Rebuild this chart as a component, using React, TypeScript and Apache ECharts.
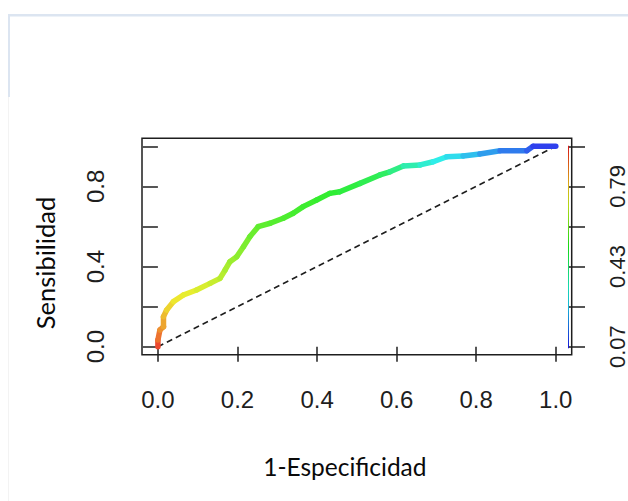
import React, { useEffect, useRef } from "react";
import * as echarts from "echarts";

// ROC curve points (1-Especificidad, Sensibilidad) and cutoff at each point
const fpr = [0, 0, 0.005, 0.014, 0.014, 0.022, 0.039, 0.064, 0.097, 0.131, 0.156, 0.169, 0.181, 0.198, 0.215, 0.231, 0.252, 0.282, 0.315, 0.34, 0.365, 0.399, 0.432, 0.457, 0.508, 0.558, 0.583, 0.617, 0.659, 0.692, 0.726, 0.767, 0.809, 0.86, 0.927, 0.943, 1.0];
const tpr = [0, 0.033, 0.083, 0.1, 0.15, 0.183, 0.225, 0.258, 0.283, 0.316, 0.341, 0.383, 0.424, 0.449, 0.499, 0.549, 0.599, 0.616, 0.641, 0.666, 0.699, 0.732, 0.765, 0.773, 0.815, 0.857, 0.873, 0.902, 0.907, 0.923, 0.948, 0.952, 0.962, 0.978, 0.978, 1.0, 1.0];
const cutoffs = [0.97, 0.91, 0.87, 0.84, 0.82, 0.79, 0.76, 0.745, 0.73, 0.71, 0.69, 0.67, 0.655, 0.64, 0.62, 0.6, 0.58, 0.57, 0.56, 0.55, 0.54, 0.53, 0.52, 0.51, 0.49, 0.47, 0.45, 0.39, 0.35, 0.31, 0.29, 0.26, 0.22, 0.18, 0.14, 0.11, 0.07];

const diagonal = [[0, 0], [1, 1]];
const xTicks = [0, 0.2, 0.4, 0.6, 0.8, 1.0];
const yTicks = [0, 0.2, 0.4, 0.6, 0.8, 1.0];
const yLabelValues = [0, 0.4, 0.8];
const colorbarLabels = ["0.07", "0.25", "0.43", "0.61", "0.79", "0.97"];
const cutMin = 0.07;
const cutMax = 0.97;

function rainbow(c: number, s = 0.85, v = 0.92): string {
  let t = (c - cutMin) / (cutMax - cutMin);
  t = Math.max(0, Math.min(1, t));
  const h = 240 * (1 - t);
  const f = (n: number) => {
    const k = (n + h / 60) % 6;
    return v - v * s * Math.max(0, Math.min(k, 4 - k, 1));
  };
  const to = (x: number) => Math.round(x * 255).toString(16).padStart(2, "0");
  return "#" + to(f(5)) + to(f(3)) + to(f(1));
}

const labelFont = "'Liberation Sans', Arial, sans-serif";
const titleFont = "Lato, 'Noto Sans', sans-serif";
const ink = "#1e1e1e";

export default function App() {
  const ref = useRef<HTMLDivElement>(null);
  useEffect(() => {
    if (!ref.current) return;
    const chart = echarts.init(ref.current, null, { renderer: "svg" });
    const curveData = fpr.map((x, i) => [x, tpr[i], cutoffs[i]]);
    const barStops = [];
    for (let k = 0; k <= 10; k++) {
      const off = k / 10;
      barStops.push({ offset: off, color: rainbow(cutMax - off * (cutMax - cutMin), 0.9, 0.85) });
    }
    chart.setOption({
      animation: false,
      backgroundColor: "#ffffff",
      grid: [
        { left: 142, top: 138.3, width: 429.7, height: 216.4, show: true, borderColor: ink, borderWidth: 1.5, backgroundColor: "transparent" },
        { left: 568, top: 146.3, width: 4, height: 200.4, show: false },
      ],
      xAxis: [
        {
          type: "value", gridIndex: 0, min: -0.04, max: 1.04,
          axisLine: { show: false }, splitLine: { show: false },
          axisTick: { show: true, length: 15, lineStyle: { color: ink, width: 1.5 }, customValues: xTicks },
          axisLabel: { customValues: xTicks, formatter: (v: number) => v.toFixed(1), fontSize: 24, fontFamily: labelFont, color: ink, margin: 33 },
          name: "1-Especificidad", nameLocation: "middle", nameGap: 99,
          nameTextStyle: { fontSize: 24.5, fontFamily: titleFont, color: "#0a0a0a", padding: [0, 24, 0, 0] },
        },
        { type: "value", gridIndex: 1, min: 0, max: 1, show: false },
      ],
      yAxis: [
        {
          type: "value", gridIndex: 0, min: -0.04, max: 1.04,
          axisLine: { show: false }, splitLine: { show: false },
          axisTick: { show: true, length: 15, lineStyle: { color: ink, width: 1.5 }, customValues: yTicks },
          axisLabel: { customValues: yLabelValues, formatter: (v: number) => v.toFixed(1), rotate: 90, fontSize: 24, fontFamily: labelFont, color: ink, margin: 35 },
          name: "Sensibilidad", nameLocation: "middle", nameGap: 84, nameRotate: 90,
          nameTextStyle: { fontSize: 25.5, fontFamily: titleFont, color: "#0a0a0a", padding: [0, 33, 0, 0] },
        },
        {
          type: "category", gridIndex: 1, data: colorbarLabels, boundaryGap: false, position: "right",
          axisLine: { show: false }, splitLine: { show: false },
          axisTick: { show: true, interval: 0, length: 17, lineStyle: { color: ink, width: 1.5 } },
          axisLabel: { interval: 1, rotate: 90, fontSize: 22, fontFamily: labelFont, color: ink, margin: 37 },
        },
      ],
      series: [
        {
          type: "line", xAxisIndex: 0, yAxisIndex: 0, data: diagonal, symbol: "none",
          lineStyle: { color: ink, width: 1.6, type: [6, 4] }, silent: true, z: 2,
        },
        {
          type: "custom", xAxisIndex: 0, yAxisIndex: 0, data: curveData, z: 3,
          encode: { x: 0, y: 1 },
          renderItem: (params: any, api: any) => {
            const i = params.dataIndex;
            if (i === 0) return null;
            const p0 = api.coord([fpr[i - 1], tpr[i - 1]]);
            const p1 = api.coord([api.value(0), api.value(1)]);
            const c = (cutoffs[i - 1] + cutoffs[i]) / 2;
            return {
              type: "line",
              shape: { x1: p0[0], y1: p0[1], x2: p1[0], y2: p1[1] },
              style: { stroke: rainbow(c, 0.8, 0.93), lineWidth: 5.5, lineCap: "round" },
            };
          },
        },
        {
          type: "custom", xAxisIndex: 1, yAxisIndex: 1, data: [[0, 0]],
          renderItem: (params: any, api: any) => {
            const p0 = api.coord([0, 0]);
            const p1 = api.coord([1, colorbarLabels.length - 1]);
            return {
              type: "rect",
              shape: { x: p0[0], y: p1[1] - 0.5, width: p1[0] - p0[0], height: p0[1] - p1[1] + 2 },
              style: { fill: new echarts.graphic.LinearGradient(0, 0, 0, 1, barStops) },
            };
          },
        },
      ],
      graphic: [
        { type: "rect", shape: { x: 8, y: 14, width: 620, height: 2.5 }, style: { fill: "#dce5f1" } },
        { type: "rect", shape: { x: 8, y: 14, width: 2, height: 83 }, style: { fill: "#dce5f1" } },
        { type: "rect", shape: { x: 8, y: 97, width: 1, height: 404 }, style: { fill: "#f3f3f3" } },
      ],
    });
    return () => chart.dispose();
  }, []);
  return <div ref={ref} style={{ position: "fixed", left: 0, top: 0, width: 628, height: 501 }} />;
}
